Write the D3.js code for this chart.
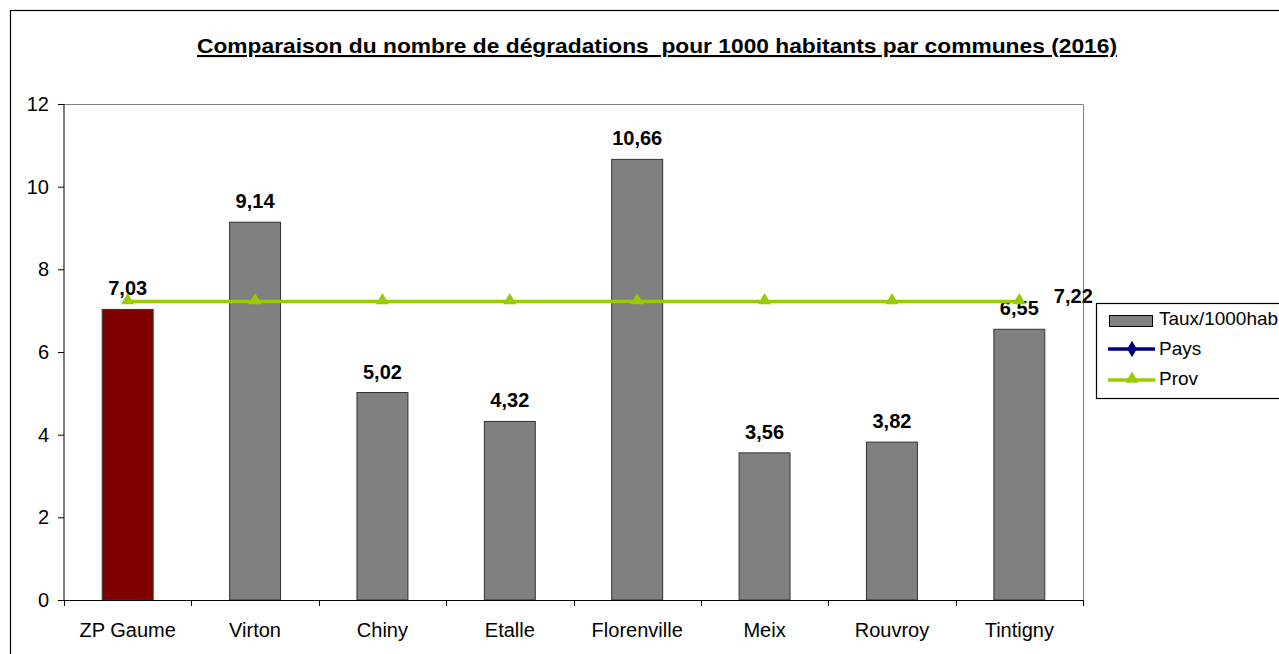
<!DOCTYPE html>
<html><head><meta charset="utf-8">
<script src="https://cdn.jsdelivr.net/npm/d3@7"></script>
<style>body{margin:0;background:#fff;font-family:Arial,"Liberation Sans",sans-serif} svg text{font-family:Arial,"Liberation Sans",sans-serif}</style>
</head><body><svg id="c" width="1279" height="654"></svg>
<script>
const categories = ["ZP Gaume","Virton","Chiny","Etalle","Florenville","Meix","Rouvroy","Tintigny"];
const taux = [7.03,9.14,5.02,4.32,10.66,3.56,3.82,6.55];
const prov = [7.22,7.22,7.22,7.22,7.22,7.22,7.22,7.22];
const yTicks = [0,2,4,6,8,10,12];
const legendLabels = ["Taux/1000hab","Pays","Prov"];
const title = "Comparaison du nombre de dégradations  pour 1000 habitants par communes (2016)";

const svg = d3.select("#c");
const fmt = v => v.toFixed(2).replace(".", ",");
const L=64, R=1083, T=104, B=600;
const x = d3.scaleBand().domain(categories).range([L,R]);
const y = d3.scaleLinear().domain([0,12]).range([B,T]);

// outer chart border
svg.append("rect").attr("x",10.5).attr("y",10.5).attr("width",1300).attr("height",700)
  .attr("fill","none").attr("stroke","#000").attr("stroke-width",1.2);

// title
svg.append("text").attr("x",657).attr("y",53).attr("text-anchor","middle")
  .attr("font-size",21).attr("font-weight","bold").attr("text-decoration","underline")
  .attr("textLength",920).attr("lengthAdjust","spacingAndGlyphs")
  .style("white-space","pre").text(title);

// plot border (top/right gray)
svg.append("path").attr("d",`M${L},${T+0.5}H${R+0.5}V${B}`).attr("fill","none").attr("stroke","#808080");

// bars
const bw = x.bandwidth()*0.4;
svg.selectAll(".bar").data(taux).enter().append("rect")
  .attr("x",(d,i)=>x(categories[i])+x.bandwidth()/2-bw/2)
  .attr("y",d=>y(d)).attr("width",bw).attr("height",d=>B-y(d))
  .attr("fill",(d,i)=>i===0?"#800000":"#808080").attr("stroke","#333").attr("stroke-width",1);

// bar labels
svg.selectAll(".bl").data(taux).enter().append("text")
  .attr("x",(d,i)=>x(categories[i])+x.bandwidth()/2)
  .attr("y",d=>y(d)-14).attr("text-anchor","middle")
  .attr("font-size",20).attr("font-weight","bold").text(d=>fmt(d));

// prov line
const line = d3.line().x((d,i)=>x(categories[i])+x.bandwidth()/2).y(d=>y(d));
svg.append("path").datum(prov).attr("d",line).attr("fill","none").attr("stroke","#99CC00").attr("stroke-width",3.5);
const tri = d3.symbol().type(d3.symbolTriangle).size(75);
svg.selectAll(".pm").data(prov).enter().append("path").attr("d",tri)
  .attr("transform",(d,i)=>`translate(${x(categories[i])+x.bandwidth()/2},${y(d)-1})`)
  .attr("fill","#99CC00");
svg.append("text").attr("x",x(categories[7])+x.bandwidth()/2+54).attr("y",y(prov[7])+1)
  .attr("text-anchor","middle").attr("font-size",20).attr("font-weight","bold").text(fmt(prov[7]));

// y axis
const ya = svg.append("g").attr("transform",`translate(${L},0)`)
  .call(d3.axisLeft(y).tickValues(yTicks).tickSize(6).tickPadding(9).tickFormat(d=>d));
ya.selectAll("text").attr("font-size",20).attr("fill","#000");
ya.selectAll("line,path").attr("stroke","#000");
ya.select(".domain").attr("d",`M0,${T}V${B}`);

// x axis
const xa = svg.append("g").attr("transform",`translate(0,${B})`);
xa.append("line").attr("x1",L).attr("x2",R).attr("y1",0.5).attr("y2",0.5).attr("stroke","#000");
const edges = categories.map(c=>x(c)).concat([R]);
xa.selectAll(".tk").data(edges).enter().append("line")
  .attr("x1",d=>Math.round(d)+0.5).attr("x2",d=>Math.round(d)+0.5).attr("y1",0).attr("y2",6).attr("stroke","#000");
xa.selectAll(".xl").data(categories).enter().append("text")
  .attr("x",d=>x(d)+x.bandwidth()/2).attr("y",37).attr("text-anchor","middle")
  .attr("font-size",20).text(d=>d);

// legend
const lg = svg.append("g");
lg.append("rect").attr("x",1096.5).attr("y",303.5).attr("width",300).attr("height",95)
  .attr("fill","#fff").attr("stroke","#000").attr("stroke-width",1.2);
lg.append("rect").attr("x",1109.5).attr("y",315.5).attr("width",43).attr("height",11)
  .attr("fill","#808080").attr("stroke","#000");
lg.append("line").attr("x1",1108).attr("x2",1155).attr("y1",349).attr("y2",349).attr("stroke","#000080").attr("stroke-width",3.5);
lg.append("path").attr("d",d3.symbol().type(d3.symbolDiamond).size(80)).attr("transform","translate(1132,349)").attr("fill","#000080");
lg.append("line").attr("x1",1108).attr("x2",1155).attr("y1",380).attr("y2",380).attr("stroke","#99CC00").attr("stroke-width",3.5);
lg.append("path").attr("d",d3.symbol().type(d3.symbolTriangle).size(75)).attr("transform","translate(1132,379)").attr("fill","#99CC00");
lg.selectAll(".lt").data(legendLabels).enter().append("text")
  .attr("x",1159).attr("y",(d,i)=>325+i*30).attr("font-size",19)
  .attr("textLength",(d,i)=>i===0?119:null).attr("lengthAdjust","spacingAndGlyphs").text(d=>d);
</script></body></html>
